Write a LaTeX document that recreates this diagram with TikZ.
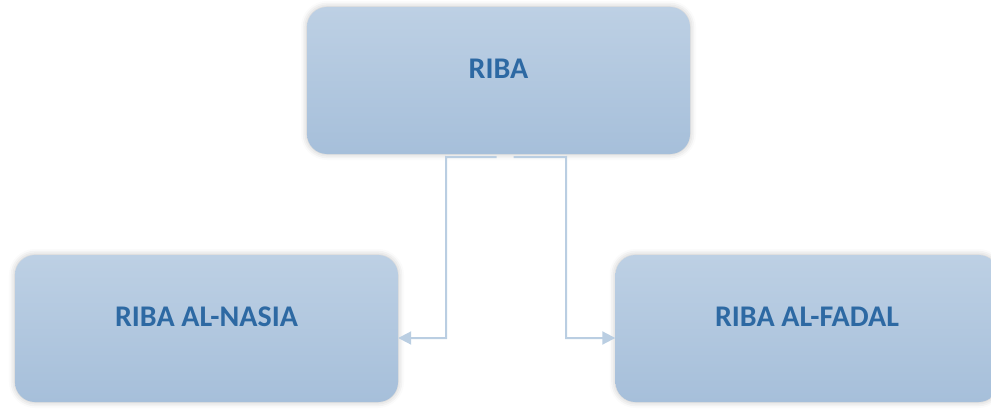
\documentclass[tikz,border=0pt]{standalone}
\usepackage{fontspec}
\setmainfont{Carlito}
\usetikzlibrary{shadows.blur,arrows.meta}

\definecolor{boxtop}{HTML}{BDD0E4}
\definecolor{boxbottom}{HTML}{A6BFDA}
\definecolor{labelblue}{HTML}{2D69A3}
\definecolor{linkblue}{HTML}{BACEE2}

\tikzset{
  rbox/.style={
    rectangle, rounded corners=20pt,
    minimum width=383pt, minimum height=147pt,
    top color=boxtop, bottom color=boxbottom, draw=none,
    blur shadow={shadow xshift=0pt, shadow yshift=0pt,
                 shadow blur radius=6pt, shadow opacity=25,
                 shadow scale=1.0},
    font=\fontsize{30}{36}\selectfont\bfseries, text=labelblue,
    text height=20pt, text depth=25pt, inner sep=0pt},
  link/.style={draw=linkblue, line width=2pt,
    -{Triangle[length=13pt,width=13pt]}}
}

\begin{document}
\begin{tikzpicture}[x=1pt,y=-1pt]
  \useasboundingbox (0,0) rectangle (991,412);
  \clip (0,0) rectangle (991,412);

  \node[rbox] (riba)  at (498.5,80.5)  {RIBA};
  \node[rbox] (nasia) at (206.5,328.5) {RIBA AL-NASIA};
  \node[rbox] (fadal) at (807,328.5)   {RIBA AL-FADAL};

  \coordinate (lsplit) at (446,157);
  \coordinate (rsplit) at (566,157);

  \draw[link] ([xshift=-2pt,yshift=-3pt]riba.south) -- (lsplit)
        -- (lsplit |- 0,338) -- (nasia.east |- 0,338);
  \draw[link] ([xshift=15pt,yshift=-3pt]riba.south) -- (rsplit)
        -- (rsplit |- 0,338) -- (fadal.west |- 0,338);
\end{tikzpicture}
\end{document}
